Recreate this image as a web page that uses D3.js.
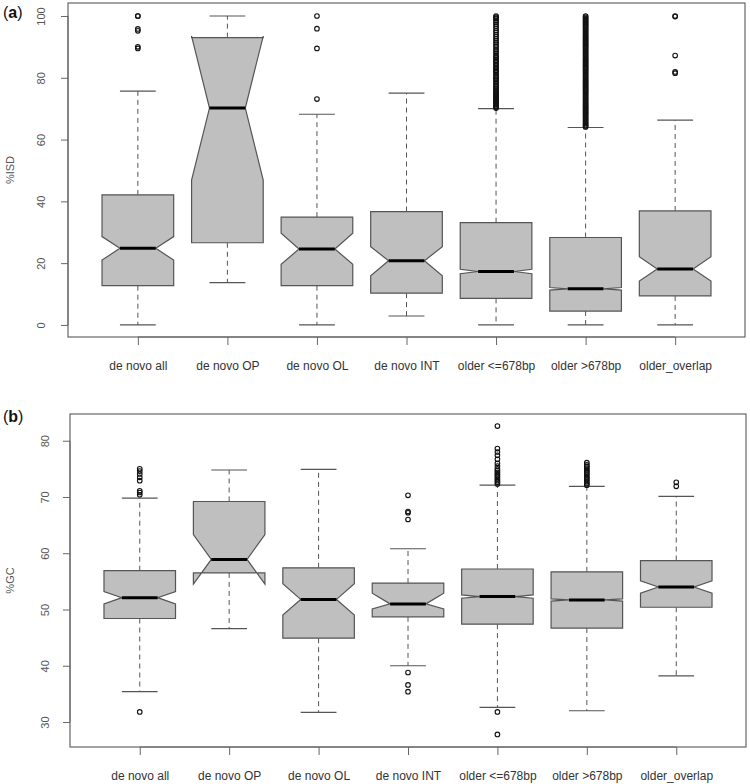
<!DOCTYPE html>
<html><head><meta charset="utf-8">
<script src="https://cdn.jsdelivr.net/npm/d3@7"></script>
<style>
html,body{margin:0;padding:0;background:#fff;}
svg{display:block;font-family:"Liberation Sans",Arial,Helvetica,sans-serif;}
</style></head>
<body>
<svg id="chart" width="750" height="784"></svg>
<script>
const categories = ["de novo all","de novo OP","de novo OL","de novo INT","older <=678bp","older >678bp","older_overlap"];

// Panel (a): %ISD
const isdTicks = [0,20,40,60,80,100];
const isdWhiskLo = [0, 13.7, 0, 2.9, 0, 0, 0];
const isdQ1      = [12.7, 26.6, 12.7, 10.3, 8.6, 4.5, 9.4];
const isdMedian  = [24.8, 70.2, 24.6, 20.8, 17.3, 11.7, 18.1];
const isdQ3      = [42.1, 93.0, 34.9, 36.7, 33.1, 28.3, 36.9];
const isdWhiskHi = [75.7, 100, 68.2, 75.0, 70.0, 63.9, 66.3];
const isdConfLo  = [21.0, 46.9, 19.6, 15.9, 16.6, 11.3, 14.2];
const isdConfHi  = [28.6, 93.5, 29.7, 25.3, 18.0, 12.1, 22.1];
const isdOutliers = [
  [100, 100, 95.8, 95.2, 90.0, 89.5],
  [],
  [100, 95.9, 89.5, 73.1],
  [],
  [70.2,70.5,70.8,71.2,71.5,71.9,72.3,72.6,73.0,73.4,73.8,74.3,74.7,75.0,75.6,76.0,76.5,77.0,77.4,78.0,78.5,79.0,79.5,80.0,80.5,81.0,81.6,82.1,82.5,83.0,83.3,83.8,84.3,84.8,85.3,85.7,86.3,86.8,87.3,88.0,88.6,89.2,90.0,90.6,91.3,92.0,92.6,93.3,94.0,94.7,95.3,96.0,96.7,97.3,98.0,98.6,99.2,99.6,100],
  [64.1,64.4,64.8,65.2,65.6,66.0,66.4,66.8,67.2,67.6,68.0,68.4,68.8,69.2,69.6,70.0,70.4,70.8,71.2,71.6,72.0,72.4,72.8,73.2,73.6,74.0,74.4,74.8,75.2,75.6,76.0,76.4,76.8,77.2,77.6,78.0,78.4,78.8,79.2,79.6,80.0,80.4,80.8,81.2,81.6,82.0,82.4,82.8,83.2,83.6,84.0,84.4,84.8,85.2,85.6,86.0,86.4,86.8,87.2,87.6,88.0,88.4,88.8,89.2,89.6,90.0,90.4,90.8,91.2,91.6,92.0,92.4,92.8,93.2,93.6,94.0,94.4,94.8,95.2,95.6,96.0,96.4,96.8,97.2,97.6,98.0,98.4,98.8,99.2,99.6,100],
  [100, 99.8, 87.2, 81.9, 81.5]
];

// Panel (b): %GC
const gcTicks = [30,40,50,60,70,80];
const gcWhiskLo = [35.4, 46.6, 31.7, 40.0, 32.6, 32.0, 38.2];
const gcQ1      = [48.4, 56.5, 44.9, 48.7, 47.4, 46.7, 50.4];
const gcMedian  = [52.1, 58.9, 51.8, 51.0, 52.3, 51.7, 54.0];
const gcQ3      = [56.9, 69.2, 57.4, 54.7, 57.2, 56.7, 58.7];
const gcWhiskHi = [69.8, 74.8, 74.9, 60.8, 72.1, 71.9, 70.1];
const gcConfLo  = [51.0, 54.5, 49.0, 50.1, 52.0, 51.5, 52.9];
const gcConfHi  = [53.2, 63.3, 54.6, 52.9, 52.6, 51.9, 55.1];
const gcOutliers = [
  [75.0, 74.6, 74.1, 73.5, 72.9, 71.1, 70.8, 70.4, 31.8],
  [],
  [],
  [70.3, 67.4, 67.2, 66.0, 38.8, 36.6, 35.4],
  [82.6, 78.6, 78.0, 77.4, 76.7, 76.0, 75.5, 75.0, 74.7, 74.4, 74.1, 73.8, 73.5, 73.2, 72.9, 72.6, 72.3, 31.8, 27.8],
  [76.1, 75.7, 75.4, 75.1, 74.8, 74.5, 74.2, 73.9, 73.6, 73.3, 73.0, 72.7, 72.4, 72.1],
  [72.6, 71.9]
];

const svg = d3.select("#chart");

function drawPanel(cfg) {
  const g = svg.append("g");
  const x = d3.scaleLinear().domain([0.22, 7.78]).range([cfg.left, cfg.right]);
  const y = d3.scaleLinear().domain(cfg.yDomain).range([cfg.bottom, cfg.top]);
  const bw = x(0.8) - x(0); // box width

  const data = categories.map((c, i) => ({
    c, i: i + 1,
    lo: cfg.lo[i], q1: cfg.q1[i], med: cfg.med[i], q3: cfg.q3[i], hi: cfg.hi[i],
    cl: cfg.cl[i], ch: cfg.ch[i], out: cfg.out[i]
  }));

  // whiskers (dashed)
  data.forEach(d => {
    const cx = x(d.i);
    g.append("line").attr("x1", cx).attr("x2", cx).attr("y1", y(d.q3)).attr("y2", y(d.hi))
      .attr("stroke", "#555").attr("stroke-width", 1).attr("stroke-dasharray", "5,4");
    g.append("line").attr("x1", cx).attr("x2", cx).attr("y1", y(d.q1)).attr("y2", y(d.lo))
      .attr("stroke", "#555").attr("stroke-width", 1).attr("stroke-dasharray", "5,4");
    [d.hi, d.lo].forEach(v => {
      g.append("line").attr("x1", cx - bw / 4).attr("x2", cx + bw / 4).attr("y1", y(v)).attr("y2", y(v))
        .attr("stroke", "#555").attr("stroke-width", 1.2);
    });
  });

  // notched boxes
  data.forEach(d => {
    const cx = x(d.i), h = bw / 2, n = bw / 4;
    const pts = [
      [cx - h, y(d.q1)], [cx + h, y(d.q1)], [cx + h, y(d.cl)], [cx + n, y(d.med)], [cx + h, y(d.ch)],
      [cx + h, y(d.q3)], [cx - h, y(d.q3)], [cx - h, y(d.ch)], [cx - n, y(d.med)], [cx - h, y(d.cl)]
    ];
    g.append("polygon").attr("points", pts.map(p => p.join(",")).join(" "))
      .attr("fill", "#bfbfbf").attr("stroke", "#555").attr("stroke-width", 1.2)
      .attr("stroke-linejoin", "miter");
    g.append("line").attr("x1", cx - n).attr("x2", cx + n).attr("y1", y(d.med)).attr("y2", y(d.med))
      .attr("stroke", "#000").attr("stroke-width", 3);
  });

  // outliers
  data.forEach(d => {
    g.selectAll(null).data(d.out).enter().append("circle")
      .attr("cx", x(d.i)).attr("cy", v => y(v)).attr("r", 2.3)
      .attr("fill", "none").attr("stroke", "#111").attr("stroke-width", 1.1);
  });

  // plot frame
  g.append("rect").attr("x", cfg.left).attr("y", cfg.top)
    .attr("width", cfg.right - cfg.left).attr("height", cfg.bottom - cfg.top)
    .attr("fill", "none").attr("stroke", "#666").attr("stroke-width", 1.2);

  // y axis
  const yAxis = d3.axisLeft(y).tickValues(cfg.ticks).tickSize(7).tickFormat(d3.format("d"));
  const ya = g.append("g").attr("transform", `translate(${cfg.left},0)`).call(yAxis);
  ya.select(".domain").attr("d", `M0,${y(cfg.ticks[0])}V${y(cfg.ticks[cfg.ticks.length - 1])}`).attr("stroke", "#666");
  ya.selectAll(".tick line").attr("stroke", "#666");
  ya.selectAll(".tick text")
    .attr("transform", "rotate(-90)")
    .attr("x", 0).attr("y", -cfg.ylabOff).attr("dy", 0)
    .attr("text-anchor", "middle")
    .attr("font-size", 11).attr("fill", "#555");

  // x axis
  const xAxis = d3.axisBottom(x).tickValues(d3.range(1, 8)).tickSize(8).tickFormat(i => categories[i - 1]);
  const xa = g.append("g").attr("transform", `translate(0,${cfg.bottom})`).call(xAxis);
  xa.select(".domain").attr("d", `M${x(1)},0H${x(7)}`).attr("stroke", "#666");
  xa.selectAll(".tick line").attr("stroke", "#666");
  xa.selectAll(".tick text").attr("y", 33).attr("dy", 0).attr("font-size", 12).attr("fill", "#333");
  ya.attr("font-family", null); xa.attr("font-family", null);

  // axis title
  g.append("text").attr("transform", `translate(14,${(cfg.top + cfg.bottom) / 2}) rotate(-90)`)
    .attr("text-anchor", "middle").attr("font-size", 11).attr("fill", "#555").text(cfg.title);

  // panel letter
  const lt = g.append("text").attr("x", 3).attr("y", cfg.letterY).attr("font-size", 16).attr("fill", "#111");
  lt.append("tspan").text("(");
  lt.append("tspan").attr("font-weight", "bold").text(cfg.letter);
  lt.append("tspan").text(")");
}

drawPanel({
  left: 68, right: 745, top: 3, bottom: 337, yDomain: [-3.9, 104.2],
  ticks: isdTicks, lo: isdWhiskLo, q1: isdQ1, med: isdMedian, q3: isdQ3, hi: isdWhiskHi,
  cl: isdConfLo, ch: isdConfHi, out: isdOutliers, title: "%ISD", letter: "a", letterY: 18, ylabOff: 23
});
drawPanel({
  left: 70, right: 746, top: 414, bottom: 747, yDomain: [25.56, 84.75],
  ticks: gcTicks, lo: gcWhiskLo, q1: gcQ1, med: gcMedian, q3: gcQ3, hi: gcWhiskHi,
  cl: gcConfLo, ch: gcConfHi, out: gcOutliers, title: "%GC", letter: "b", letterY: 422, ylabOff: 21
});
</script>
</body></html>
